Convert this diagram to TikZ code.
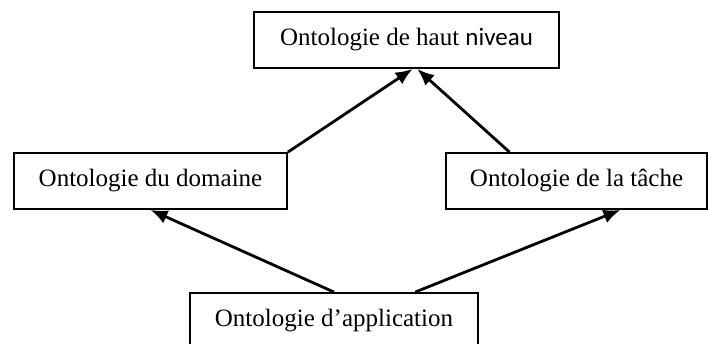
\documentclass[tikz,border=0pt]{standalone}
\usepackage{fontspec}
\setmainfont{Liberation Serif}
\newfontfamily\calfont{Carlito}
\usepackage{tikz}
\usetikzlibrary{arrows.meta,positioning,calc}

\begin{document}
\begin{tikzpicture}[x=1pt, y=-1pt, >={Latex[length=17pt,width=14pt]},
    onto/.style={rectangle, draw, line width=1.8pt, minimum height=56pt, inner sep=0pt,
        font=\fontsize{25}{29}\selectfont}]

    \useasboundingbox (0,0) rectangle (708,344);
    \clip (0,0) rectangle (708,344);

    \node[onto, minimum width=305pt] (haut) at (406.5,40) {Ontologie de haut {\calfont niveau}};
    \node[onto, minimum width=273pt] (dom) at (150.5,181) {Ontologie du domaine};
    \node[onto, minimum width=261pt] (tache) at (576.5,181) {Ontologie de la t\^ache};
    \node[onto, minimum width=288pt] (app) at (334,321) {Ontologie d’application};

    \draw[->, line width=2.8pt] (app.north) -- (dom.south);
    \draw[->, line width=2.8pt] ($(app.north west)!0.78!(app.north east)$) -- ($(tache.south west)!0.667!(tache.south east)$);
    \draw[->, line width=2.8pt] (dom.north east) -- ($(haut.south west)!0.52!(haut.south east)$);
    \draw[->, line width=2.8pt] ($(tache.north west)!0.245!(tache.north east)$) -- ($(haut.south west)!0.535!(haut.south east)$);

\end{tikzpicture}
\end{document}
